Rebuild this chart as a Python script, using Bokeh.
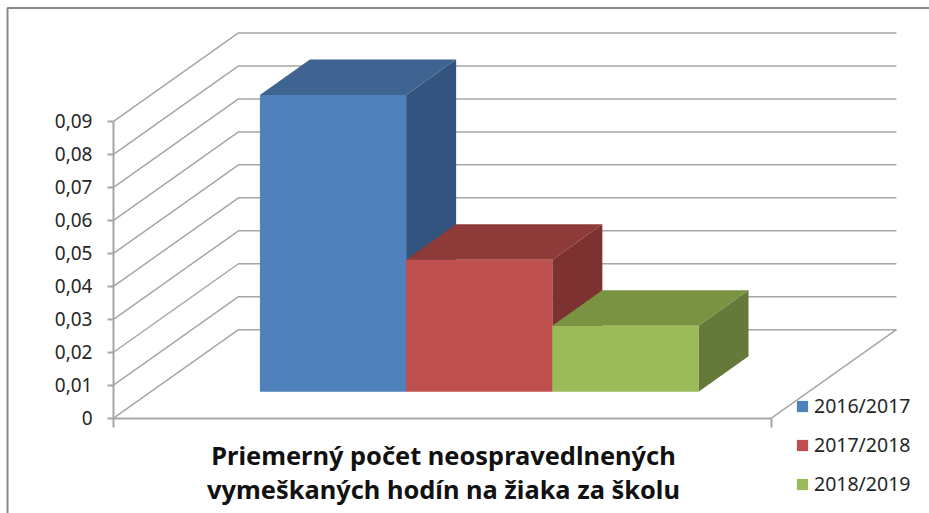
from bokeh.plotting import figure
from bokeh.models import Range1d, LinearAxis, FixedTicker, Label, Legend, LegendItem
from bokeh.embed import file_html
from bokeh.resources import INLINE

# data
series = ["2016/2017", "2017/2018", "2018/2019"]
values = [0.09, 0.04, 0.02]
ticks = [0, 0.01, 0.02, 0.03, 0.04, 0.05, 0.06, 0.07, 0.08, 0.09]
tick_labels = ["0", "0,01", "0,02", "0,03", "0,04", "0,05", "0,06", "0,07", "0,08", "0,09"]
title_lines = ["Priemerný počet neospravedlnených", "vymeškaných hodín na žiaka za školu"]

# style
front = ["#4F81BD", "#C0504D", "#9BBB59"]
topc = ["#3F6491", "#8E3A38", "#7A9343"]
sidec = ["#32547F", "#7C3231", "#65793A"]
GRID = "#A6A6A6"
TXT = "#262626"
FONT = "Noto Sans"

# layout: pixels per unit, oblique depth
PX_X = 146.2
PX_Y = 3297.0
DX = 125 / PX_X
DY = 88.5 / PX_Y
CAT_W = 4.5
GAP = 0.745
T0, T1 = 0.30, 0.70

W, H = 929, 513
X0_PX, Y0_PX = 113, 417.7   # canvas position of the front-left floor corner


def xd(px):
    return (px - X0_PX) / PX_X


def yd(py):
    return (Y0_PX - py) / PX_Y


p = figure(width=W, height=H, output_backend="svg", toolbar_location=None,
           x_range=Range1d(xd(0), xd(W)), y_range=Range1d(yd(H), yd(0)),
           x_axis_type=None, y_axis_type=None,
           min_border=0, outline_line_color=None)
p.grid.visible = False

yaxis = LinearAxis(ticker=FixedTicker(ticks=ticks), bounds=(0, ticks[-1]), fixed_location=0,
                   major_label_overrides=dict(zip(ticks, tick_labels)),
                   major_tick_out=6, major_tick_in=0, minor_tick_out=0, minor_tick_in=0,
                   axis_line_color=GRID, axis_line_width=2, major_tick_line_color=GRID, major_tick_line_width=2,
                   major_label_text_font=FONT, major_label_text_font_size="19px", major_label_text_color=TXT,
                   major_label_standoff=15)
xaxis = LinearAxis(ticker=FixedTicker(ticks=[0, CAT_W]), bounds=(0, CAT_W), fixed_location=0,
                   major_label_overrides={0: "", CAT_W: ""},
                   major_tick_out=9, major_tick_in=0, minor_tick_out=0, minor_tick_in=0,
                   axis_line_color=GRID, axis_line_width=2, major_tick_line_color=GRID, major_tick_line_width=2)
p.add_layout(yaxis, "left")
p.add_layout(xaxis, "below")

# outer frame (left and top edges only are in view)
p.line([xd(7), xd(7), xd(W)], [yd(H), yd(7.5), yd(7.5)], line_color="#888888", line_width=2)

# wall gridlines
xs = [[0, DX, CAT_W + DX] for _ in ticks]
ys = [[t, t + DY, t + DY] for t in ticks]
p.multi_line(xs, ys, line_color=GRID, line_width=1.5)
p.line([CAT_W, CAT_W + DX], [0, DY], line_color=GRID, line_width=1.5)

# bars
items = []
for i, (name, v) in enumerate(zip(series, values)):
    x0 = GAP + i + T0 * DX
    x1 = x0 + 1
    y0 = T0 * DY
    y1 = y0 + v
    dx = (T1 - T0) * DX
    dy = (T1 - T0) * DY
    p.patch([x1, x1 + dx, x1 + dx, x1], [y0, y0 + dy, y1 + dy, y1], fill_color=sidec[i], line_color=None)
    p.patch([x0, x1, x1 + dx, x0 + dx], [y1, y1, y1 + dy, y1 + dy], fill_color=topc[i], line_color=None)
    r = p.quad(left=[x0], right=[x1], bottom=[y0], top=[y1], fill_color=front[i], line_color=None)
    items.append(LegendItem(label=name, renderers=[r]))

legend = Legend(items=items, location=(795, 16), orientation="vertical",
                background_fill_alpha=0, border_line_color=None,
                glyph_width=14, glyph_height=14, label_standoff=5, spacing=12, padding=0, margin=0,
                label_text_font=FONT, label_text_font_size="19.5px", label_text_color=TXT,
                label_height=19)
p.add_layout(legend, "center")

for line, py in zip(title_lines, [454, 488]):
    p.add_layout(Label(x=xd(443), y=yd(py), text=line,
                       text_align="center", text_baseline="middle",
                       text_font=FONT, text_font_style="bold", text_font_size="25.4px", text_color="#111111"))

open("out.html", "w").write(file_html(p, INLINE))
